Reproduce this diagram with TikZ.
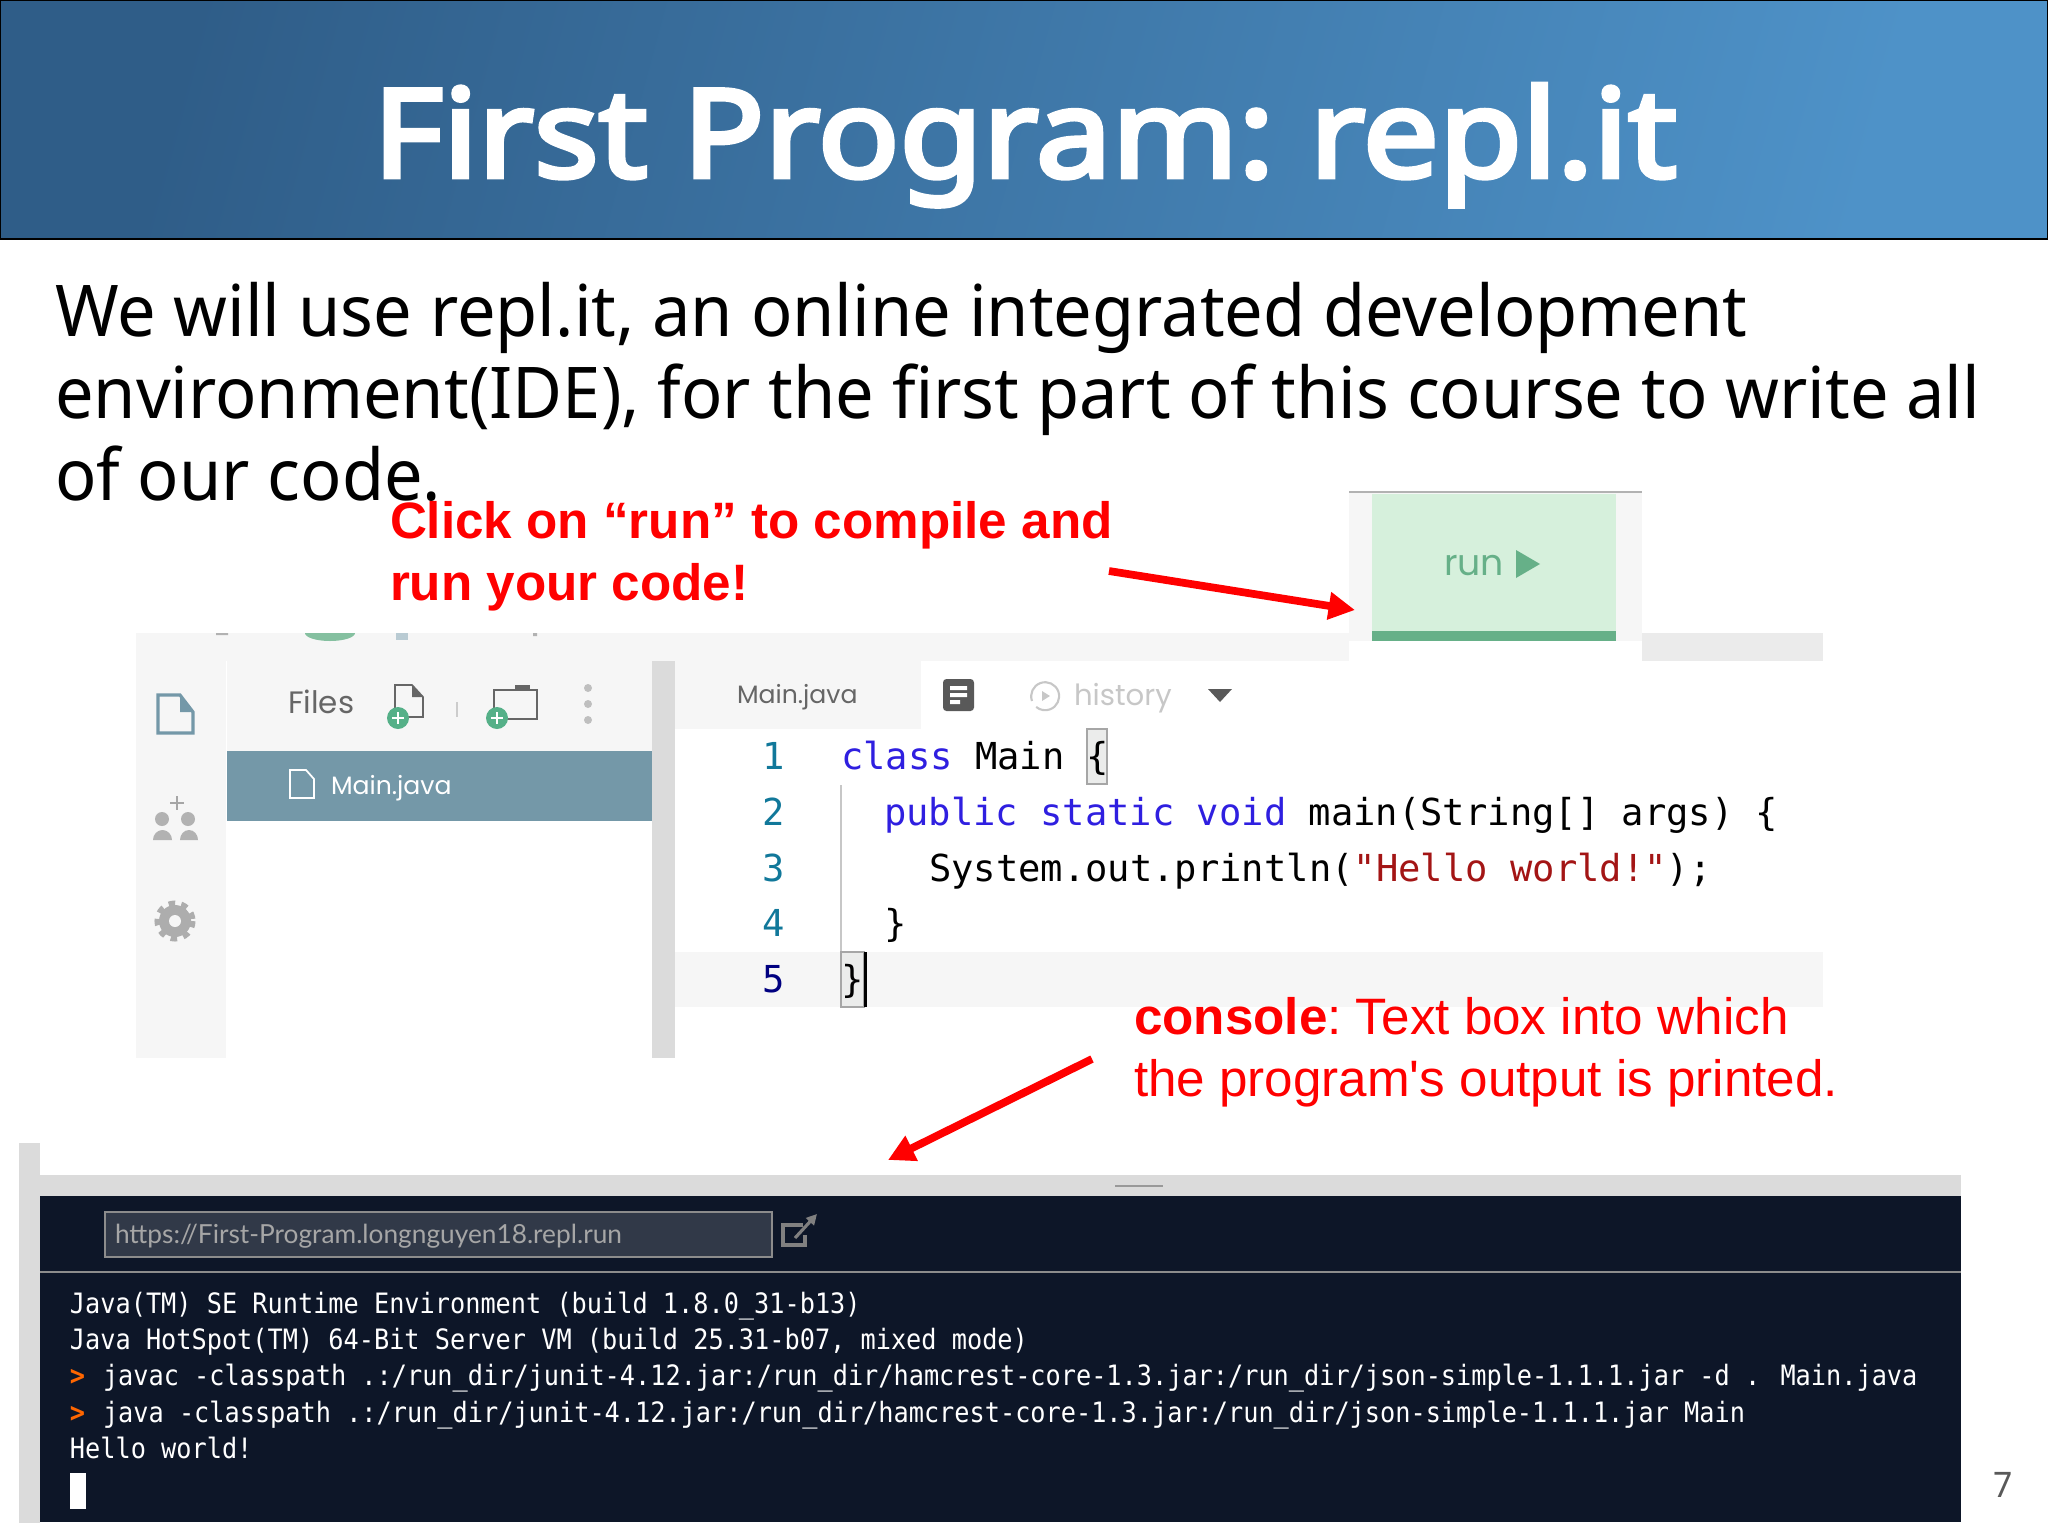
\documentclass[tikz,border=0pt]{standalone}
\usepackage{fontspec}
\usetikzlibrary{arrows.meta}
\setmainfont[FakeStretch=0.96]{Noto Sans}
\newfontfamily\titlefont[FakeBold=4,FakeStretch=1.105]{Noto Sans}
\newfontfamily\notefont{Liberation Sans}
\newfontfamily\uifont{Lato}
\newfontfamily\roundfont{Poppins}
\newfontfamily\codefont{DejaVu Sans Mono}
\newfontfamily\termfont[FakeStretch=0.9]{DejaVu Sans Mono}
\definecolor{headleft}{HTML}{2F5D88}
\definecolor{headright}{HTML}{4E92C8}
\definecolor{railgray}{HTML}{F6F6F6}
\definecolor{sidebar}{HTML}{7498A8}
\definecolor{rungreen}{HTML}{D6F0DC}
\definecolor{rundark}{HTML}{66B088}
\definecolor{plusgreen}{HTML}{55B088}
\definecolor{keyword}{HTML}{2F1FE0}
\definecolor{linenum}{HTML}{11789A}
\definecolor{strred}{HTML}{A31515}
\definecolor{termbg}{HTML}{0D1628}
\tikzset{
  every node/.style={inner sep=0,outer sep=0,anchor=base west},
  titletext/.style={font=\titlefont\fontsize{34.8}{40}\selectfont\frenchspacing,color=white},
  bodytext/.style={font=\fontsize{20.3}{24}\selectfont\frenchspacing,color=black},
  notetext/.style={font=\notefont\fontsize{14.56}{17}\selectfont\frenchspacing,color=red},
  boldnote/.style={notetext,font=\notefont\fontsize{14.56}{17}\selectfont\bfseries\frenchspacing},
  codetext/.style={font=\codefont\fontsize{10.56}{13}\selectfont,color=black},
  numtext/.style={font=\codefont\fontsize{10.56}{13}\selectfont,color=linenum,anchor=base},
  termtext/.style={font=\termfont\fontsize{7.98}{10}\selectfont,color=white},
  termmark/.style={font=\termfont\fontsize{7.98}{10}\selectfont\bfseries,color=orange!80!red},
  uitext/.style={font=\roundfont\fontsize{7.15}{10}\selectfont,color=black!60},
  redarrow/.style={draw=red,line width=2.2pt,-{Triangle[length=7.5pt,width=7.5pt]}},
}
\begin{document}
\begin{tikzpicture}[x=0.01cm,y=-0.01cm]
        \useasboundingbox (0,0) rectangle (2048,1536) ;
        % title bar
        \draw[black,line width=0.4pt,left color=headleft,right color=headright,shading angle=75] (0,0) rectangle (2048,239) ;
        \node[titletext] (title) at (373,177) {First Program: repl.it} ;
        \node[bodytext] (bodyone) at (55,336) {We will use repl.it, an online integrated development} ;
        \node[bodytext] (bodytwo) at (55,418) {environment(IDE), for the first part of this course to write all} ;
        \node[bodytext] (bodythree) at (55,500) {of our code.} ;
        % ide top bar and run tab
        \fill[railgray] (136,633) rectangle (1349,661) ;
        \fill[black!8] (1642,633) rectangle (1823,661) ;
        \fill[railgray] (1349,492) rectangle (1642,641) ;
        \fill[white] (1349,641) rectangle (1642,661) ;
        \draw[black!30,line width=0.6pt] (1349,492) -- (1642,492) ;
        \fill[rungreen] (1372,494) rectangle (1616,631) ;
        \fill[rundark] (1372,631) rectangle (1616,641) ;
        \node[uitext,color=rundark,font=\roundfont\fontsize{10.3}{12}\selectfont] (runlabel) at (1444,575) {run} ;
        \fill[rundark] (1516,550) -- (1540,564) -- (1516,578) -- cycle ;
        \fill[rundark!80] (305,633) arc (180:360:25 and -8) -- cycle ;
        \fill[sidebar!50] (396,633) rectangle (408,640) ;
        \fill[black!30] (216,633) rectangle (228,635) (533,633) rectangle (537,636) ;
        % panels
        \fill[railgray] (136,661) rectangle (226,1058) ;
        \fill[railgray] (227,661) rectangle (652,751) ;
        \fill[sidebar] (227,751) rectangle (652,821) ;
        \fill[black!14] (652,661) rectangle (675,1058) ;
        \fill[railgray] (675,661) rectangle (921,729) ;
        \fill[railgray] (675,952) rectangle (1823,1007) ;
        % left rail icons
        \draw[sidebar,line width=0.9pt] (158,695) -- (180,695) -- (193,712) -- (193,733) -- (158,733) -- cycle ;
        \fill[sidebar] (180,695) -- (193,712) -- (180,712) -- cycle ;
        \draw[black!35,line width=0.5pt] (177,796) -- (177,810) (170,803) -- (184,803) ;
        \fill[black!30] (162,819) circle (7) (188,819) circle (7) ;
        \fill[black!30] (153,840) arc (180:0:9.5 and -10) -- cycle ;
        \fill[black!30] (180,840) arc (180:0:9 and -10) -- cycle ;
        \fill[black!32] (175,921) circle (16) ;
        \draw[black!32,line width=2pt,dash pattern=on 1.75pt off 1.75pt] (175,921) circle (17) ;
        \fill[railgray] (175,921) circle (6) ;
        % files header
        \node[uitext,font=\roundfont\fontsize{8.8}{10}\selectfont] (filesname) at (288,713) {Files} ;
        \draw[black!60,line width=0.5pt] (395,717) -- (395,685) -- (412,685) -- (423,697) -- (423,717) -- cycle ;
        \fill[black!60] (412,685) -- (423,697) -- (412,697) -- cycle ;
        \fill[plusgreen] (398,718) circle (11) ;
        \draw[white,line width=0.5pt] (392,718) -- (404,718) (398,712) -- (398,724) ;
        \draw[black!20,line width=0.3pt] (457,702) -- (457,717) ;
        \draw[black!60,line width=0.5pt] (494,719) -- (494,690) -- (537,690) -- (537,719) -- cycle ;
        \fill[black!60] (515,685) rectangle (530,691) ;
        \fill[plusgreen] (497,718) circle (11) ;
        \draw[white,line width=0.5pt] (491,718) -- (503,718) (497,712) -- (497,724) ;
        \fill[black!25] (588,688) circle (4) (588,704) circle (4) (588,720) circle (4) ;
        \draw[white,line width=0.5pt] (290,798) -- (290,770) -- (306,770) -- (314,779) -- (314,798) -- cycle ;
        \node[uitext,color=white] (filename) at (331,794) {Main.java} ;
        % tab row
        \node[uitext] (tabname) at (737,703) {Main.java} ;
        \fill[black!65,rounded corners=1pt] (943,679) rectangle (974,711) ;
        \fill[white] (950,686) rectangle (967,690) (950,693) rectangle (967,697) (950,700) rectangle (960,704) ;
        \draw[black!22,line width=0.6pt] (1032,701) arc (200:-130:14 and -14) ;
        \fill[black!22] (1042,691) -- (1050,696) -- (1042,701) -- cycle ;
        \node[uitext,color=black!22,font=\roundfont\fontsize{8.3}{12}\selectfont] (historyname) at (1074,705) {history} ;
        \fill[black!65] (1208,689) -- (1232,689) -- (1220,702) -- cycle ;
        % code
        \draw[black!22,line width=0.3pt] (841,785) -- (841,952) ;
        \draw[black!35,fill=green!6!black!8,line width=0.3pt] (1087,729) rectangle (1107,784) ;
        \draw[black!35,fill=green!6!black!8,line width=0.3pt] (841,952) rectangle (864,1007) ;
        \fill[black] (864,952) rectangle (867,1007) ;
        \node[numtext] (numone) at (774,769) {1} ;
        \node[numtext] (numtwo) at (774,825) {2} ;
        \node[numtext] (numthree) at (774,881) {3} ;
        \node[numtext] (numfour) at (774,936) {4} ;
        \node[numtext,color=blue!50!black] (numfive) at (774,992) {5} ;
        \node[codetext] (codeone) at (841,769) {\textcolor{keyword}{class} Main \{} ;
        \node[codetext] (codetwo) at (884,825) {\textcolor{keyword}{public static void} main(String[] args) \{} ;
        \node[codetext] (codethree) at (929,881) {System.out.println(\textcolor{strred}{"Hello world!"});} ;
        \node[codetext] (codefour) at (884,936) {\}} ;
        \node[codetext] (codefive) at (841,992) {\}} ;
        % console
        \fill[black!14] (19,1143) rectangle (40,1523) ;
        \fill[black!14] (40,1175) rectangle (1961,1196) ;
        \fill[termbg] (40,1196) rectangle (1961,1522) ;
        \draw[black!40,line width=0.4pt] (1115,1186) -- (1163,1186) ;
        \draw[black!45,fill=termbg!85!white,line width=0.5pt] (105,1212) rectangle (772,1257) ;
        \node[font=\uifont\fontsize{7.47}{10}\selectfont,color=black!35] (urlname) at (115,1243) {https://First-Program.longnguyen18.repl.run} ;
        \draw[black!50,line width=0.9pt] (803,1225) -- (783,1225) -- (783,1245) -- (805,1245) -- (805,1235) ;
        \draw[black!50,line width=0.9pt,-{Triangle[length=3pt,width=3pt]}] (795,1238) -- (817,1214) ;
        \draw[black!45,line width=0.5pt] (40,1272) -- (1961,1272) ;
        \node[termtext] (termone) at (70,1313) {Java(TM) SE Runtime Environment (build 1.8.0\_31-b13)} ;
        \node[termtext] (termtwo) at (70,1349) {Java HotSpot(TM) 64-Bit Server VM (build 25.31-b07, mixed mode)} ;
        \node[termmark] (markone) at (70,1385) {>} ;
        \node[termtext] (termthree) at (103,1385) {javac -classpath .:/run\_dir/junit-4.12.jar:/run\_dir/hamcrest-core-1.3.jar:/run\_dir/json-simple-1.1.1.jar -d . Main.java} ;
        \node[termmark] (marktwo) at (70,1422) {>} ;
        \node[termtext] (termfour) at (103,1422) {java -classpath .:/run\_dir/junit-4.12.jar:/run\_dir/hamcrest-core-1.3.jar:/run\_dir/json-simple-1.1.1.jar Main} ;
        \node[termtext] (termfive) at (70,1458) {Hello world!} ;
        \fill[white] (70,1473) rectangle (86,1509) ;
        \node[font=\fontsize{10}{12}\selectfont,color=black!65] (pagenum) at (1993,1497) {7} ;
        % notes and arrows
        \node[boldnote] (runnoteone) at (390,538) {Click on “run” to compile and} ;
        \node[boldnote] (runnotetwo) at (390,600) {run your code!} ;
        \node[notetext] (consolenoteone) at (1134,1034) {\textbf{console}: Text box into which} ;
        \node[notetext] (consolenotetwo) at (1134,1096) {the program's output is printed.} ;
        \coordinate (runtail) at (1109,571) ;
        \coordinate (runtip) at (1355,610) ;
        \coordinate (consoletail) at (1092,1059) ;
        \coordinate (consoletip) at (888,1160) ;
        \draw[redarrow] (runtail) -- (runtip) ;
        \draw[redarrow] (consoletail) -- (consoletip) ;
      \end{tikzpicture}
\end{document}
